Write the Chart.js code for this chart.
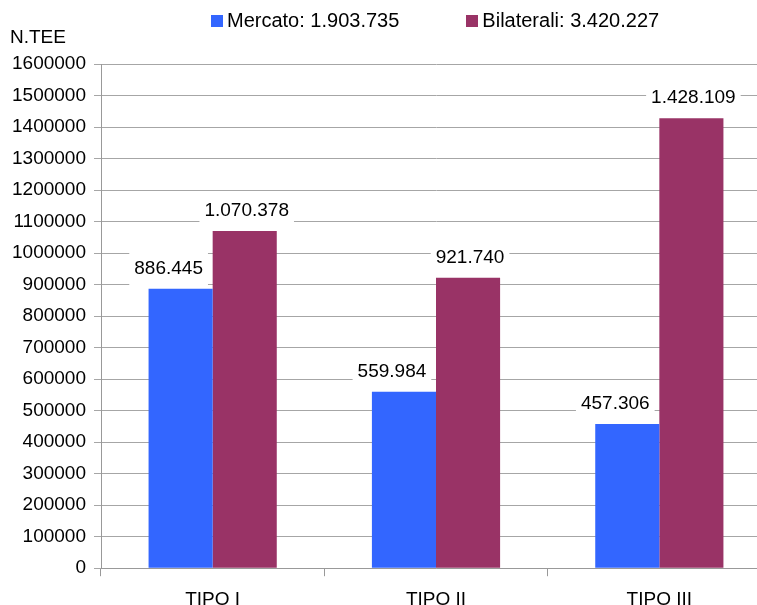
<!DOCTYPE html>
<html>
<head>
<meta charset="utf-8">
<script src="https://cdn.jsdelivr.net/npm/chart.js@4.4.0/dist/chart.umd.min.js"></script>
<style>
	html, body { margin: 0; padding: 0; background: #fff; overflow: hidden; }
	#wrap { position: relative; width: 771px; height: 623px; font-family: 'Liberation Sans', Arial, sans-serif; }
	#unit { position: absolute; left: 10px; top: 26px; font-size: 19px; color: #000; }
	#legend { position: absolute; left: 211px; top: 9px; display: flex; gap: 67px; font-size: 20px; color: #000; }
	#legend .item { display: flex; align-items: center; }
	#legend .box { width: 12px; height: 12px; margin-right: 4px; }
</style>
</head>
<body>
<div id="wrap">
	<canvas id="barChart"></canvas>
	<div id="unit">N.TEE</div>
	<div id="legend"></div>
</div>
<script>
const categories = ['TIPO I', 'TIPO II', 'TIPO III'];
const mercato = [886445, 559984, 457306];
const bilaterali = [1070378, 921740, 1428109];
const yTicks = [0, 100000, 200000, 300000, 400000, 500000, 600000, 700000, 800000, 900000, 1000000, 1100000, 1200000, 1300000, 1400000, 1500000, 1600000];

// italian style thousands: 1.903.735
const fmt = (v) => String(v).replace(/\B(?=(\d{3})+(?!\d))/g, '.');
const sum = (arr) => arr.reduce((a, b) => a + b, 0);

const data = {
	labels: categories,
	datasets: [{
		label: 'Mercato: ' + fmt(sum(mercato)),
		data: mercato,
		backgroundColor: '#3366FF', //Mercato
		labelShift: -12
	}, {
		label: 'Bilaterali: ' + fmt(sum(bilaterali)),
		data: bilaterali,
		backgroundColor: '#993366', //Bilaterali
		labelShift: 2
	}]
};

// value labels above the bars, on a white box that cuts the gridlines
const valueLabels = {
	id: 'valueLabels',
	afterDatasetsDraw(chart) {
		const ctx = chart.ctx;
		ctx.save();
		ctx.font = '19px "Liberation Sans", Arial, sans-serif';
		ctx.textAlign = 'center';
		ctx.textBaseline = 'middle';
		chart.data.datasets.forEach((ds, i) => {
			chart.getDatasetMeta(i).data.forEach((bar, j) => {
				const text = fmt(ds.data[j]);
				const w = ctx.measureText(text).width;
				const x = bar.x + ds.labelShift;
				const y = bar.y - 20;
				ctx.fillStyle = '#fff';
				ctx.fillRect(x - w / 2 - 5, y - 17, w + 10, 34);
				ctx.fillStyle = '#000';
				ctx.fillText(text, x, y);
			});
		});
		ctx.restore();
	}
};

const drawLegend = () => {
	const el = document.getElementById('legend');
	data.datasets.forEach((ds) => {
		const item = document.createElement('div');
		item.className = 'item';
		const box = document.createElement('span');
		box.className = 'box';
		box.style.background = ds.backgroundColor;
		const txt = document.createElement('span');
		txt.textContent = ds.label;
		item.appendChild(box);
		item.appendChild(txt);
		el.appendChild(item);
	});
};

const drawBarChart = () => {
	const barChart = new Chart(document.getElementById('barChart'), {
		type: 'bar',
		data: data,
		plugins: [valueLabels],
		options: {
			responsive: true,
			maintainAspectRatio: false,
			animation: false,
			layout: { padding: { left: 13, top: 64, right: 0, bottom: 0 } },
			datasets: {
				bar: { categoryPercentage: 0.574, barPercentage: 1.0 }
			},
			plugins: {
				legend: { display: false },
				tooltip: { enabled: false }
			},
			scales: {
				x: {
					grid: { drawOnChartArea: false, tickLength: 8, color: '#999' },
					border: { color: '#999' },
					ticks: {
						padding: 12,
						color: '#000',
						font: { family: '"Liberation Sans", Arial, sans-serif', size: 19 }
					}
				},
				y: {
					min: 0,
					max: 1600000,
					afterFit: (scale) => { scale.width = 88; },
					afterBuildTicks: (scale) => { scale.ticks = yTicks.map((v) => ({ value: v })); },
					grid: { color: '#a6a6a6', tickLength: 7 },
					border: { color: '#999' },
					ticks: {
						padding: 8,
						color: '#000',
						font: { family: '"Liberation Sans", Arial, sans-serif', size: 19 },
						callback: (v) => String(v)
					}
				}
			}
		}
	});
};

drawLegend();
drawBarChart();
</script>
</body>
</html>
